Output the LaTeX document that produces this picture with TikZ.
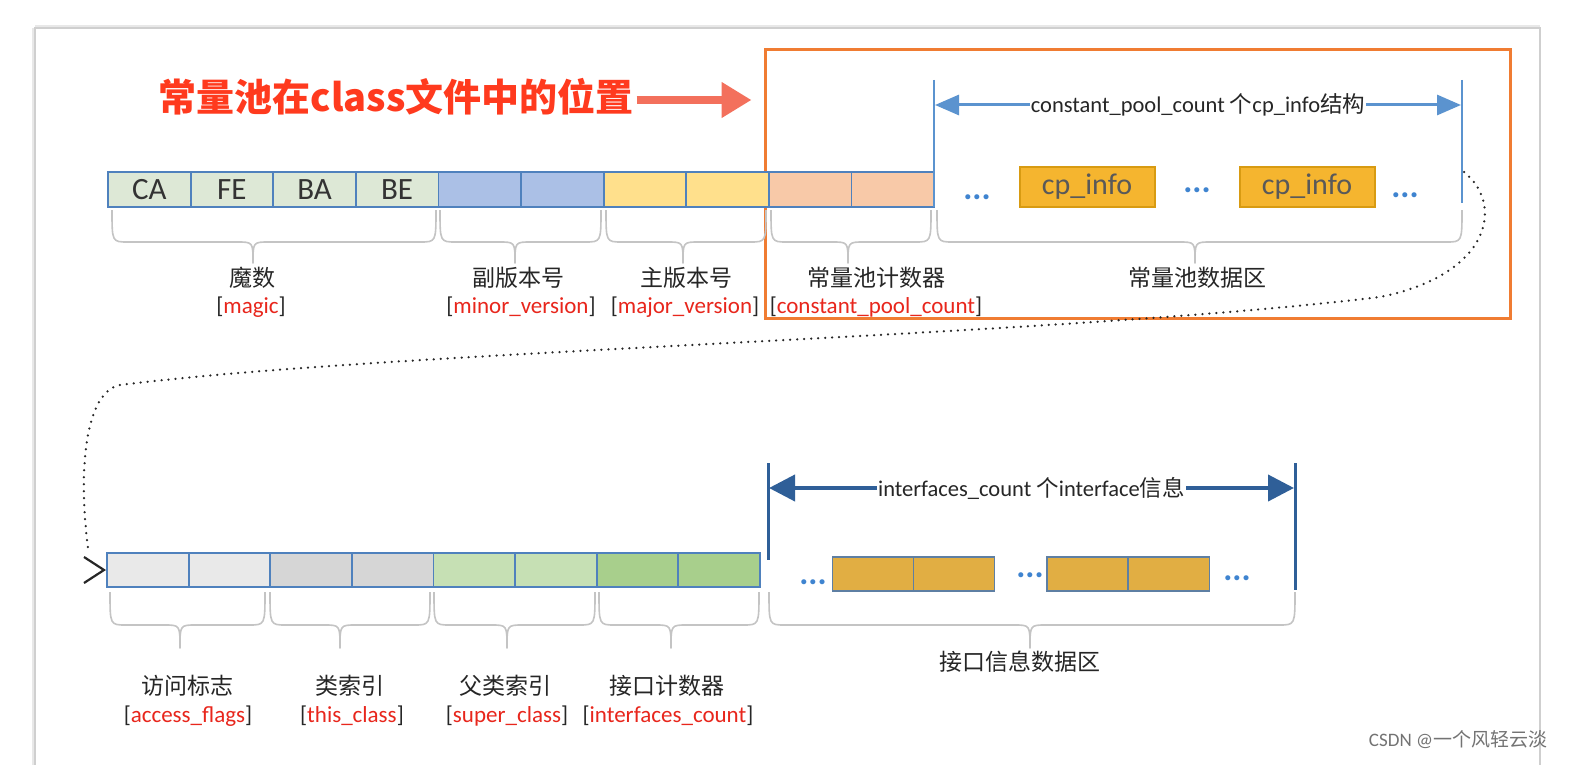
\documentclass[tikz,border=0pt]{standalone}
\usepackage{fontspec}
\setmainfont{Carlito}
\newfontfamily\cjk{Noto Sans CJK SC}
\usetikzlibrary{arrows.meta}
\definecolor{cellblue}{HTML}{4F81BD}
\definecolor{magicc}{HTML}{DDE8D6}
\definecolor{minorc}{HTML}{ABC0E6}
\definecolor{majorc}{HTML}{FFE08C}
\definecolor{cpcc}{HTML}{F8C9A8}
\definecolor{accc}{HTML}{E9E9E9}
\definecolor{thcc}{HTML}{D6D6D6}
\definecolor{supc}{HTML}{C6E0B4}
\definecolor{ifcc}{HTML}{A8CF8C}
\definecolor{bracegray}{HTML}{C4C4C4}
\definecolor{labred}{HTML}{E8261C}
\definecolor{titlered}{HTML}{FF3A1E}
\definecolor{arrowred}{HTML}{F3705C}
\definecolor{orangebox}{HTML}{F07C32}
\definecolor{topblue}{HTML}{5B93CF}
\definecolor{botblue}{HTML}{2F5F98}
\definecolor{dotblue}{HTML}{3F84D0}
\definecolor{cpfill}{HTML}{F5B52F}
\definecolor{cpborder}{HTML}{D89B12}
\definecolor{ifill}{HTML}{E1AE43}
\definecolor{iborder}{HTML}{5E7FA3}
\definecolor{panelgray}{HTML}{CFCFCF}
\newcommand\mybrace[6]{\draw[brc] (#1,#4) .. controls (#1,#5) .. (#1+16,#5) -- (#3-16,#5) .. controls (#3,#5) .. (#3,#6) .. controls (#3,#5) .. (#3+16,#5) -- (#2-16,#5) .. controls (#2,#5) .. (#2,#4);}
\newcommand\redl[1]{[\textcolor{labred}{#1}]}
\begin{document}
\begin{tikzpicture}[x=1pt,y=-1pt,
  cell/.style={draw=cellblue,line width=1.8pt,minimum height=35pt,inner sep=0pt,font=\fontsize{31}{33}\selectfont,text=black!80},
  icell/.style={draw=iborder,fill=ifill,line width=1.8pt,minimum width=81pt,minimum height=34pt,inner sep=0pt},
  cpinfo/.style={draw=cpborder,fill=cpfill,line width=2pt,minimum width=135pt,minimum height=39pt,inner sep=0pt,font=\fontsize{30}{33}\selectfont,text=black!65},
  brc/.style={draw=bracegray,line width=1.6pt,line join=round},
  cn/.style={font=\cjk\fontsize{23}{26}\selectfont,text=black!85,inner sep=0pt},
  en/.style={font=\fontsize{23}{26}\selectfont,text=black!85,inner sep=0pt},
  dotsn/.style={font=\bfseries\fontsize{34}{34}\selectfont,text=dotblue,inner sep=0pt},
  topv/.style={draw=topblue,line width=2.2pt},
  botv/.style={draw=botblue,line width=3pt},
  toparrow/.style={draw=topblue,line width=3pt,{Triangle[length=24pt,width=20pt]}-{Triangle[length=24pt,width=20pt]}},
  botarrow/.style={draw=botblue,line width=4pt,{Triangle[length=26pt,width=26pt]}-{Triangle[length=26pt,width=26pt]}},
  ]
\useasboundingbox (0,0) rectangle (1585,765);
\fill[white] (0,0) rectangle (1585,765);
% panel
\draw[gray!18,line width=6pt] (35,28) -- (1540,28);
\draw[gray!18,line width=6pt] (35,28) -- (35,800);
\draw[panelgray,line width=1.5pt,fill=white] (35,28) rectangle (1540,800);
% title and arrow
\node[font=\cjk\bfseries\fontsize{38}{42}\selectfont,text=titlered,inner sep=0pt] (title) at (396,97) {常量池在class文件中的位置};
% orange box
\node[draw=orangebox,line width=3pt,minimum width=745pt,minimum height=268pt,inner sep=0pt] (cpbox) at (1137.5,184) {};
\draw[arrowred,line width=8pt,-{Triangle[length=30pt,width=34pt]},shorten >=12pt] ([xshift=3pt,yshift=-3pt]title.east) -- ([yshift=-3pt]title.east -| cpbox.west);
% top cells
\foreach \i/\c/\t in {1/magicc/CA,2/magicc/FE,3/magicc/BA,4/magicc/BE,5/minorc/,6/minorc/,7/majorc/,8/majorc/,9/cpcc/,10/cpcc/}
  \node[cell,fill=\c,minimum width=82.6pt] (t\i) at ({108+82.6*(\i-0.5)},189.5) {\t};
% top braces
\mybrace{112}{436}{253}{210}{242}{263}
\mybrace{440}{601}{515}{210}{242}{263}
\mybrace{606}{766}{683}{210}{242}{263}
\mybrace{771}{931}{848}{210}{242}{263}
\mybrace{937}{1462}{1195}{210}{242}{263}
% top labels
\node[cn] (l1) at (252,278) {魔数};
\node[en] (e1) at (251,307) {\redl{magic}};
\node[cn] (l2) at (518,278) {副版本号};
\node[en] (e2) at (521,307) {\redl{minor\_version}};
\node[cn] (l3) at (686,278) {主版本号};
\node[en] (e3) at (685,307) {\redl{major\_version}};
\node[cn] (l4) at (876,278) {常量池计数器};
\node[en] (e4) at (876,307) {\redl{constant\_pool\_count}};
\node[cn] (l5) at (1197,278) {常量池数据区};
% top dimension
\coordinate (vt1) at (934,80); \coordinate (vb1) at (934,207);
\coordinate (vt2) at (1462,80); \coordinate (vb2) at (1462,203);
\draw[topv] (vt1) -- (vb1);
\draw[topv] (vt2) -- (vb2);
\coordinate (al) at (935,105); \coordinate (ar) at (1461,105);
\draw[toparrow] (al) -- (ar) node[midway,fill=white,inner sep=1pt,font=\fontsize{22.5}{25}\selectfont,text=black!85] (tl) {constant\_pool\_count {\cjk 个}cp\_info{\cjk 结构}};
% cp_info
\node[cpinfo] (cp1) at (1087,187) {cp\_info};
\node[cpinfo] (cp2) at (1307,187) {cp\_info};
\node[dotsn] (d1) at (977,197) {...};
\node[dotsn] (d2) at (1197,190) {...};
\node[dotsn] (d3) at (1405,195) {...};
% bottom cells
\foreach \i/\c in {1/accc,2/accc,3/thcc,4/thcc,5/supc,6/supc,7/ifcc,8/ifcc}
  \node[cell,fill=\c,minimum width=81.6pt,minimum height=34pt] (b\i) at ({107+81.6*(\i-0.5)},570) {};
% bottom braces
\mybrace{110}{265}{180}{592}{625}{648}
\mybrace{270}{430}{340}{592}{625}{648}
\mybrace{434}{595}{507}{592}{625}{648}
\mybrace{599}{759}{671}{592}{625}{648}
\mybrace{769}{1295}{1030}{592}{625}{648}
% bottom labels
\node[cn] (m1) at (187,686) {访问标志};
\node[en] (f1) at (188,716) {\redl{access\_flags}};
\node[cn] (m2) at (350,686) {类索引};
\node[en] (f2) at (352,716) {\redl{this\_class}};
\node[cn] (m3) at (505,686) {父类索引};
\node[en] (f3) at (507,716) {\redl{super\_class}};
\node[cn] (m4) at (667,686) {接口计数器};
\node[en] (f4) at (668,716) {\redl{interfaces\_count}};
\node[cn] (m5) at (1020,662) {接口信息数据区};
% bottom dimension
\coordinate (wt1) at (768,463); \coordinate (wb1) at (768,560);
\coordinate (wt2) at (1295,463); \coordinate (wb2) at (1295,590);
\draw[botv] (wt1) -- (wb1);
\draw[botv] (wt2) -- (wb2);
\coordinate (bl) at (769,488); \coordinate (br) at (1294,488);
\draw[botarrow] (bl) -- (br) node[midway,fill=white,inner sep=1pt,font=\fontsize{22.5}{25}\selectfont,text=black!85] (il) {interfaces\_count {\cjk 个}interface{\cjk 信息}};
% interface cells
\node[icell] (i1) at (873,574) {};
\node[icell] (i2) at (954,574) {};
\node[icell] (i3) at (1087.5,574) {};
\node[icell] (i4) at (1169,574) {};
\node[dotsn] (d4) at (813,582) {...};
\node[dotsn] (d5) at (1030,575) {...};
\node[dotsn] (d6) at (1237,578) {...};
% dotted connector
\coordinate (ds) at (1464,172);
\coordinate (de) at (88,548);
\draw[black!85,line width=2.5pt,line cap=round,dash pattern=on 0pt off 7pt]
  (ds) .. controls (1505,205) and (1490,275) .. (1380,297)
       .. controls (1050,337) and (400,350) .. (120,385)
       .. controls (85,392) and (78,470) .. (de);
\coordinate (ch1) at (84,557); \coordinate (chtip) at (104,570); \coordinate (ch2) at (84,583);
\draw[black!85,line width=2.2pt] (ch1) -- (chtip) -- (ch2);
% watermark
\node[font=\fontsize{19}{22}\selectfont,text=black!55,inner sep=0pt] (wm) at (1458,740) {CSDN @{\cjk 一个风轻云淡}};
\end{tikzpicture}
\end{document}
